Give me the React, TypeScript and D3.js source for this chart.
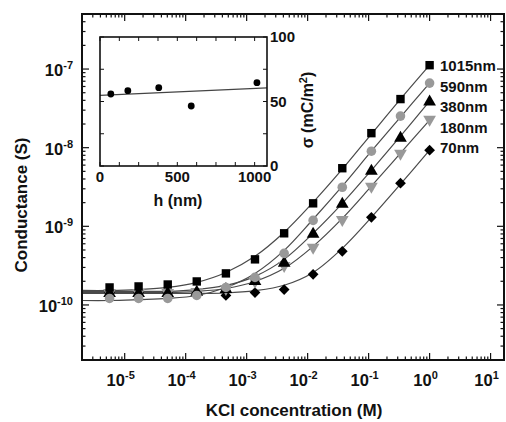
import React from 'react';
import * as d3 from 'd3';

// ---------- data ----------
const concentrations = [1, 0.333, 0.111, 0.037, 0.0123, 0.00412, 0.00137, 4.57e-4, 1.52e-4, 5.08e-5, 1.69e-5, 5.65e-6];
const fitConcentrations = [1, 0.333, 0.111, 0.037, 0.0123, 0.00412, 0.00137, 4.57e-4, 1.52e-4, 5.08e-5, 1.69e-5, 5.65e-6, 2.0e-6];

const seriesNames = ['1015nm', '590nm', '380nm', '180nm', '70nm'];

const g1015 = [1.12e-7, 4.15e-8, 1.53e-8, 5.48e-9, 1.96e-9, 8.15e-10, 3.80e-10, 2.52e-10, 1.99e-10, 1.82e-10, 1.72e-10, 1.67e-10];
const g590 = [6.63e-8, 2.52e-8, 9.02e-9, 3.14e-9, 1.19e-9, 4.53e-10, 2.24e-10, 1.67e-10, 1.32e-10, 1.21e-10, 1.21e-10, 1.21e-10];
const g380 = [3.91e-8, 1.36e-8, 5.16e-9, 1.96e-9, 8.15e-10, 3.48e-10, 2.05e-10, 1.62e-10, 1.49e-10, 1.44e-10, 1.44e-10, 1.44e-10];
const g180 = [2.24e-8, 8.26e-9, 3.14e-9, 1.19e-9, 5.25e-10, 3.09e-10, 1.94e-10, 1.57e-10, 1.44e-10, 1.40e-10, 1.40e-10, 1.40e-10];
const g70 = [9.29e-9, 3.53e-9, 1.30e-9, 4.81e-10, 2.45e-10, 1.57e-10, 1.44e-10, 1.32e-10, 1.44e-10, 1.44e-10, 1.44e-10, 1.44e-10];

const fit1015 = [1.12e-7, 4.15e-8, 1.49e-8, 5.32e-9, 2.02e-9, 8.39e-10, 4.15e-10, 2.59e-10, 1.94e-10, 1.67e-10, 1.57e-10, 1.53e-10, 1.53e-10];
const fit590 = [6.63e-8, 2.45e-8, 9.02e-9, 3.24e-9, 1.23e-9, 4.94e-10, 2.52e-10, 1.67e-10, 1.32e-10, 1.21e-10, 1.17e-10, 1.14e-10, 1.14e-10];
const fit380 = [3.91e-8, 1.40e-8, 5.16e-9, 1.96e-9, 8.15e-10, 3.80e-10, 2.31e-10, 1.77e-10, 1.57e-10, 1.49e-10, 1.49e-10, 1.49e-10, 1.49e-10];
const fit180 = [2.24e-8, 8.51e-9, 3.24e-9, 1.26e-9, 5.56e-10, 2.92e-10, 1.99e-10, 1.62e-10, 1.49e-10, 1.44e-10, 1.44e-10, 1.44e-10, 1.44e-10];
const fit70 = [9.29e-9, 3.43e-9, 1.30e-9, 5.25e-10, 2.59e-10, 1.78e-10, 1.52e-10, 1.42e-10, 1.40e-10, 1.40e-10, 1.40e-10, 1.40e-10, 1.40e-10];

const xTickExponents = [-5, -4, -3, -2, -1, 0, 1];
const yTickExponents = [-10, -9, -8, -7];

// inset data
const insetH = [70, 180, 380, 590, 1015];
const insetSigma = [55.8, 58.4, 60.7, 46.5, 64.6];
const insetFitH = [0, 1080];
const insetFitSigma = [54.8, 60.5];
const insetXTicks = [0, 500, 1000];
const insetYTicks = [0, 50, 100];

// ---------- layout ----------
const W = 506, H = 422;
const FONT = 'Arial, "Liberation Sans", Helvetica, sans-serif';

const x = d3.scaleLog().domain([Math.pow(10, -5.7), Math.pow(10, 1.22)]).range([82, 504]);
const y = d3.scaleLog().domain([Math.pow(10, -10.7), Math.pow(10, -6.3)]).range([360, 14]);

const ix = d3.scaleLinear().domain([0, 1080]).range([100, 267]);
const iy = d3.scaleLinear().domain([0, 100]).range([166, 37]);

type Marker = 'square' | 'circle' | 'tri' | 'tridown' | 'diamond';
const styles: { marker: Marker; color: string }[] = [
  { marker: 'square', color: '#000' },
  { marker: 'circle', color: '#999' },
  { marker: 'tri', color: '#000' },
  { marker: 'tridown', color: '#999' },
  { marker: 'diamond', color: '#000' },
];
const pointSets = [g1015, g590, g380, g180, g70];
const fitSets = [fit1015, fit590, fit380, fit180, fit70];

function MarkerShape({ cx, cy, m, color }: { cx: number; cy: number; m: Marker; color: string }) {
  if (m === 'square') return <rect x={cx - 4.2} y={cy - 4.2} width={8.4} height={8.4} fill={color} />;
  if (m === 'circle') return <circle cx={cx} cy={cy} r={4.8} fill={color} />;
  if (m === 'tri') return <path d={d3.symbol().type(d3.symbolTriangle).size(70)() || ''} transform={`translate(${cx},${cy + 0.8})`} fill={color} />;
  if (m === 'tridown') return <path d={d3.symbol().type(d3.symbolTriangle).size(70)() || ''} transform={`translate(${cx},${cy - 0.8}) rotate(180)`} fill={color} />;
  return <rect x={cx - 3.8} y={cy - 3.8} width={7.6} height={7.6} fill={color} transform={`rotate(45 ${cx} ${cy})`} />;
}

function logTicks(domain: number[]) {
  const lo = Math.log10(domain[0]), hi = Math.log10(domain[1]);
  const out: { v: number; major: boolean }[] = [];
  for (let k = Math.floor(lo); k <= Math.ceil(hi); k++) {
    for (let m = 1; m <= 9; m++) {
      const v = m * Math.pow(10, k);
      const lv = Math.log10(v);
      if (lv >= lo - 1e-9 && lv <= hi + 1e-9) out.push({ v, major: m === 1 });
    }
  }
  return out;
}

export default function App() {
  const [x0, x1] = x.range();
  const [y0, y1] = y.range(); // y0 bottom, y1 top
  const xt = logTicks(x.domain());
  const yt = logTicks(y.domain());

  const line = d3.line<[number, number]>().x(d => d[0]).y(d => d[1]).curve(d3.curveCatmullRom.alpha(0.5));

  const insetLine = d3.line<[number, number]>().x(d => ix(d[0])).y(d => iy(d[1]));

  const inTicksX = d3.range(0, 1080, 125);
  const inTicksY = d3.range(0, 101, 25);

  return (
    <svg width={W} height={H} style={{ position: 'absolute', left: 0, top: 0, background: '#fff' }} fontFamily={FONT}>
      <rect width={W} height={H} fill="#fff" />
      {/* fit lines */}
      {fitSets.map((f, i) => {
        const pts: [number, number][] = fitConcentrations.map((c, j) => [x(c), y(f[j])] as [number, number]).sort((a, b) => a[0] - b[0]);
        return <path key={'fit' + i} d={line(pts) || ''} fill="none" stroke="#4a4a4a" strokeWidth={1.2} />;
      })}
      {/* points, draw from back (70nm) to front */}
      {pointSets.map((s, i) => ({ s, i })).reverse().map(({ s, i }) => (
        <g key={'pts' + i}>
          {s.map((g, j) => (
            <MarkerShape key={j} cx={x(concentrations[j])} cy={y(g)} m={styles[i].marker} color={styles[i].color} />
          ))}
        </g>
      ))}
      {/* legend labels */}
      {seriesNames.map((n, i) => (
        <text key={n} x={440} y={71 + i * 20.5} fontSize={15} fontWeight="bold" fill="#111">{n}</text>
      ))}

      {/* main ticks */}
      {xt.map((t, i) => {
        const px = x(t.v);
        const len = t.major ? 7 : 3.5;
        return (
          <g key={'xt' + i} stroke="#111" strokeWidth={1.2}>
            <line x1={px} x2={px} y1={y0} y2={y0 - len} />
            <line x1={px} x2={px} y1={y1} y2={y1 + len} />
          </g>
        );
      })}
      {yt.map((t, i) => {
        const py = y(t.v);
        const len = t.major ? 7 : 3.5;
        return (
          <g key={'yt' + i} stroke="#111" strokeWidth={1.2}>
            <line x1={x0} x2={x0 + len} y1={py} y2={py} />
            <line x1={x1} x2={x1 - len} y1={py} y2={py} />
          </g>
        );
      })}
      <rect x={x0} y={y1} width={x1 - x0} height={y0 - y1} fill="none" stroke="#111" strokeWidth={2} />

      {/* main tick labels */}
      {xTickExponents.map(e => (
        <text key={'xl' + e} x={x(Math.pow(10, e)) - 4} y={386} textAnchor="middle" fontSize={16.5} fontWeight="bold" fill="#111">
          10<tspan dy={-7} fontSize={11}>{e}</tspan>
        </text>
      ))}
      {yTickExponents.map(e => (
        <text key={'yl' + e} x={73} y={y(Math.pow(10, e)) + 7} textAnchor="end" fontSize={16.5} fontWeight="bold" fill="#111">
          10<tspan dy={-7} fontSize={11}>{e}</tspan>
        </text>
      ))}
      <text x={294} y={416} textAnchor="middle" fontSize={17} fontWeight="bold" fill="#111">KCl concentration (M)</text>
      <text transform={`translate(27,205) rotate(-90)`} textAnchor="middle" fontSize={17} fontWeight="bold" fill="#111">Conductance (S)</text>

      {/* inset */}
      <g>
        {inTicksX.map((h, i) => (
          <g key={'ixt' + i} stroke="#111" strokeWidth={1}>
            <line x1={ix(h)} x2={ix(h)} y1={iy(0)} y2={iy(0) - 4} />
            <line x1={ix(h)} x2={ix(h)} y1={iy(100)} y2={iy(100) + 4} />
          </g>
        ))}
        {inTicksY.map((s, i) => (
          <g key={'iyt' + i} stroke="#111" strokeWidth={1}>
            <line x1={ix(0)} x2={ix(0) + 4} y1={iy(s)} y2={iy(s)} />
            <line x1={ix(1080)} x2={ix(1080) - 4} y1={iy(s)} y2={iy(s)} />
          </g>
        ))}
        <path d={insetLine(insetFitH.map((h, i) => [h, insetFitSigma[i]] as [number, number])) || ''} stroke="#444" strokeWidth={1.2} fill="none" />
        {insetH.map((h, i) => (
          <circle key={'ip' + i} cx={ix(h)} cy={iy(insetSigma[i])} r={3.4} fill="#000" />
        ))}
        <rect x={ix(0)} y={iy(100)} width={ix(1080) - ix(0)} height={iy(0) - iy(100)} fill="none" stroke="#111" strokeWidth={1.6} />
        {insetXTicks.map(h => (
          <text key={'ixl' + h} x={ix(h)} y={182} textAnchor="middle" fontSize={15} fontWeight="bold" fill="#111">{h}</text>
        ))}
        {insetYTicks.map(s => (
          <text key={'iyl' + s} x={270} y={iy(s) + 5} textAnchor="start" fontSize={15} fontWeight="bold" fill="#111">{s}</text>
        ))}
        <text x={178} y={206} textAnchor="middle" fontSize={16} fontWeight="bold" fill="#111">h (nm)</text>
        <text transform={`translate(313,110) rotate(-90)`} textAnchor="middle" fontSize={16} fontWeight="bold" fill="#111">
          σ (mC/m<tspan dy={-6} fontSize={11}>2</tspan><tspan dy={6}>)</tspan>
        </text>
      </g>
    </svg>
  );
}
